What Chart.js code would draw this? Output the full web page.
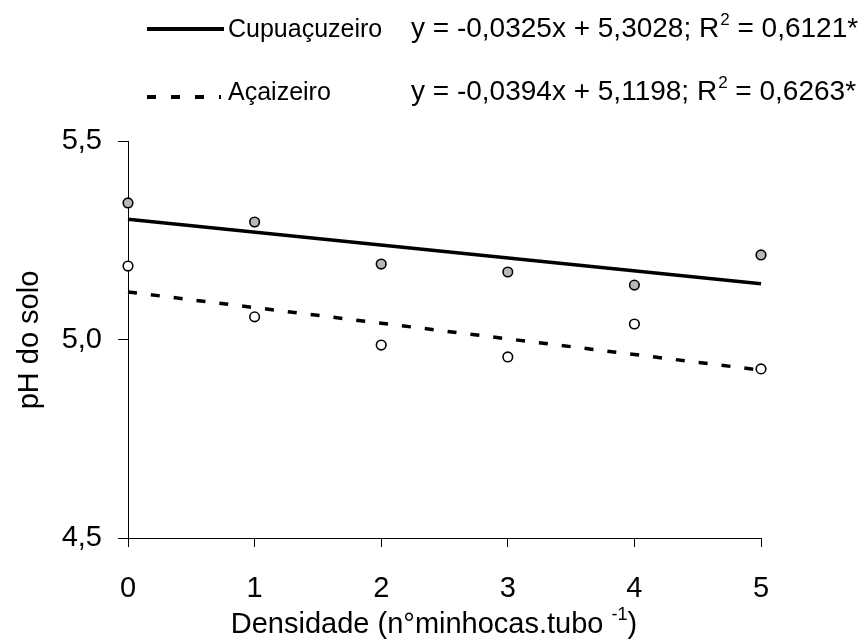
<!DOCTYPE html>
<html>
<head>
<meta charset="utf-8">
<script src="https://cdn.jsdelivr.net/npm/chart.js@4"></script>
<style>
  html, body { margin: 0; padding: 0; background: #fff; }
  #wrap { width: 866px; height: 644px; }
</style>
</head>
<body>
<div id="wrap"><canvas id="myChart" width="866" height="644"></canvas></div>
<script>
// data
const densidade = [0, 1, 2, 3, 4, 5];
const phCupuacu = [5.344, 5.296, 5.190, 5.170, 5.137, 5.213];
const phAcai = [5.185, 5.057, 4.986, 4.956, 5.039, 4.926];
const trendX = [0, 5];
const trendCupuacu = [5.3028, 5.1403];
const trendAcai = [5.1198, 4.9228];
const yTicks = [4.5, 5.0, 5.5];
const xTicks = [0, 1, 2, 3, 4, 5];

const legendLabels = ["Cupuaçuzeiro", "Açaizeiro"];
const equations = [
  ["y = -0,0325x + 5,3028; R", "2", " = 0,6121*"],
  ["y = -0,0394x + 5,1198; R", "2", " = 0,6263*"],
];

const FONT = "'Liberation Sans', Arial, sans-serif";
const toXY = (xs, ys) => xs.map((x, i) => ({ x: x, y: ys[i] }));

// legend, equations and axis titles drawn on top
const annotations = {
  id: "annotations",
  afterDraw(chart) {
    const c = chart.ctx;
    c.save();
    c.fillStyle = "#000";
    c.strokeStyle = "#000";
    c.lineWidth = 4;
    c.beginPath();
    c.moveTo(147, 29);
    c.lineTo(224, 29);
    c.stroke();
    c.setLineDash([9, 15]);
    c.beginPath();
    c.moveTo(147, 97);
    c.lineTo(221, 97);
    c.stroke();
    c.setLineDash([]);

    c.textBaseline = "alphabetic";
    c.textAlign = "left";
    c.font = "25px " + FONT;
    c.fillText(legendLabels[0], 228, 37);
    c.fillText(legendLabels[1], 228, 100);

    const rows = [37, 100];
    equations.forEach((eq, i) => {
      let x = 411;
      c.font = "28px " + FONT;
      c.fillText(eq[0], x, rows[i]);
      x += c.measureText(eq[0]).width;
      c.font = "17px " + FONT;
      c.fillText(eq[1], x + 1, rows[i] - 12);
      x += c.measureText(eq[1]).width + 1;
      c.font = "28px " + FONT;
      c.fillText(eq[2], x, rows[i]);
    });

    // y title
    c.save();
    c.translate(30, 340);
    c.rotate(-Math.PI / 2);
    c.textAlign = "center";
    c.textBaseline = "middle";
    c.font = "29px " + FONT;
    c.fillText("pH do solo", 0, 0);
    c.restore();

    // x title with superscript
    const p1 = "Densidade (n°minhocas.tubo ";
    const p2 = "-1";
    const p3 = ")";
    c.font = "29px " + FONT;
    const w1 = c.measureText(p1).width;
    const w3 = c.measureText(p3).width;
    c.font = "18px " + FONT;
    const w2 = c.measureText(p2).width;
    let x = 434 - (w1 + w2 + w3) / 2;
    const yb = 633;
    c.font = "29px " + FONT;
    c.fillText(p1, x, yb);
    x += w1;
    c.font = "18px " + FONT;
    c.fillText(p2, x, yb - 13);
    x += w2;
    c.font = "29px " + FONT;
    c.fillText(p3, x, yb);
    c.restore();
  },
};

const ctx = document.getElementById("myChart").getContext("2d");

const chart = new Chart(ctx, {
  type: "scatter",
  data: {
    datasets: [
      {
        label: "Cupuaçuzeiro",
        data: toXY(densidade, phCupuacu),
        backgroundColor: "#b8b8b8",
        borderColor: "#000",
        borderWidth: 1.6,
        pointRadius: 4.8,
        showLine: false,
        order: 0,
        clip: false,
      },
      {
        label: "Açaizeiro",
        data: toXY(densidade, phAcai),
        backgroundColor: "#fff",
        borderColor: "#000",
        borderWidth: 1.6,
        pointRadius: 4.8,
        showLine: false,
        order: 1,
        clip: false,
      },
      {
        label: "Cupuaçuzeiro (ajuste)",
        data: toXY(trendX, trendCupuacu),
        borderColor: "#000",
        borderWidth: 3.5,
        pointRadius: 0,
        showLine: true,
        order: 2,
        clip: false,
      },
      {
        label: "Açaizeiro (ajuste)",
        data: toXY(trendX, trendAcai),
        borderColor: "#000",
        borderWidth: 3.5,
        borderDash: [9, 14],
        pointRadius: 0,
        showLine: true,
        order: 3,
        clip: false,
      },
    ],
  },
  options: {
    responsive: false,
    animation: false,
    events: [],
    layout: { padding: { left: 0, top: 141, right: 105, bottom: 0 } },
    plugins: {
      legend: { display: false },
      tooltip: { enabled: false },
    },
    scales: {
      x: {
        type: "linear",
        min: 0,
        max: 5,
        afterFit: (scale) => { scale.height = 106; },
        afterBuildTicks: (scale) => { scale.ticks = xTicks.map((v) => ({ value: v })); },
        border: { display: true, color: "#000", width: 1 },
        grid: { drawOnChartArea: false, drawTicks: true, tickLength: 9, color: "#000", lineWidth: 1 },
        ticks: {
          color: "#000",
          padding: 25,
          maxRotation: 0,
          font: { family: FONT, size: 29 },
        },
      },
      y: {
        min: 4.5,
        max: 5.5,
        afterFit: (scale) => { scale.width = 128; },
        afterBuildTicks: (scale) => { scale.ticks = yTicks.map((v) => ({ value: v })); },
        border: { display: true, color: "#000", width: 1 },
        grid: { drawOnChartArea: false, drawTicks: true, tickLength: 10, color: "#000", lineWidth: 1 },
        ticks: {
          color: "#000",
          padding: 16,
          font: { family: FONT, size: 29 },
          callback: (v) => v.toFixed(1).replace(".", ","),
        },
      },
    },
  },
  plugins: [annotations],
});
</script>
</body>
</html>
